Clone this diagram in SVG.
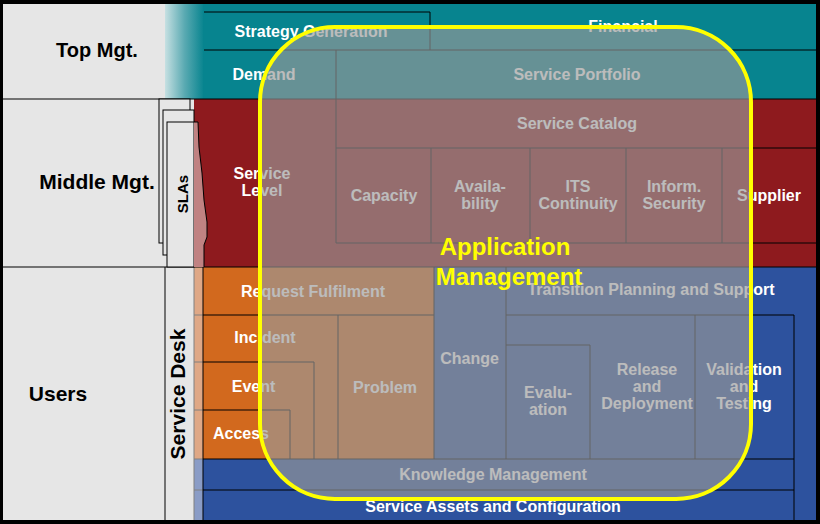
<svg xmlns="http://www.w3.org/2000/svg" width="820" height="524" viewBox="0 0 820 524">
<defs>
<linearGradient id="fade" x1="0" y1="0" x2="1" y2="0">
<stop offset="0" stop-color="#c6e0e2"/>
<stop offset="0.5" stop-color="#5aaab2"/>
<stop offset="1" stop-color="#07848f"/>
</linearGradient>
<style>
.t{font-family:"Liberation Sans",Arial,sans-serif;font-weight:bold;font-size:16px;fill:#fff;text-anchor:middle}
.h{font-family:"Liberation Sans",Arial,sans-serif;font-weight:bold;font-size:21px;fill:#000;text-anchor:middle}
.am{font-family:"Liberation Sans",Arial,sans-serif;font-weight:bold;font-size:24px;fill:#ffff00;text-anchor:middle}
.ln{fill:none;stroke:#000;stroke-width:1}
.gl{fill:none;stroke:#808080;stroke-width:1}
.pg{fill:#e6e6e6;stroke:#000;stroke-width:1}
</style>
</defs>
<rect width="820" height="524" fill="#000"/>
<rect x="3" y="4" width="813" height="516" fill="#e6e6e6"/>
<!-- colour bands -->
<rect x="165" y="4" width="39" height="95" fill="url(#fade)"/>
<rect x="203" y="4" width="613" height="95" fill="#07848f"/>
<rect x="194" y="99" width="622" height="168" fill="#8e1a1e"/>
<rect x="203" y="267" width="231" height="192" fill="#d2691e"/>
<rect x="434" y="267" width="382" height="192" fill="#2d529e"/>
<rect x="203" y="459" width="613" height="61" fill="#2d529e"/>
<rect x="194" y="267" width="9" height="192" fill="#dfa886"/>
<rect x="194" y="459" width="9" height="61" fill="#8a9cc6"/>
<path class="gl" d="M194,267V520M194,315H203M194,362H203M194,410H203M194,459H203M194,490H203"/>
<path class="ln" d="M3,99H816M3,267H816M165,267V520M203,267V520"/>

<g id="top-mgt"><text class="h" style="font-size:20px" x="97" y="57">Top Mgt.</text></g>
<g id="middle-mgt"><text class="h" x="97" y="189">Middle Mgt.</text></g>
<g id="users"><text class="h" x="58" y="401">Users</text></g>

<g id="slas">
<rect class="pg" x="159" y="99" width="31" height="144"/>
<rect class="pg" x="163" y="110" width="31" height="145"/>
<rect class="pg" x="167" y="122" width="27" height="145"/>
<path d="M194,122H198L199,147L202,173L204,200L207,222L207,237L204,245L204,267H194Z" fill="#c08282"/>
<path class="ln" d="M194,122H198L199,147L202,173L204,200L207,222L207,237L204,245L204,267"/>
<text class="h" style="font-size:15px" transform="translate(188,194) rotate(-90)">SLAs</text>
</g>
<g id="service-desk"><text class="h" transform="translate(184.5,394) rotate(-90)">Service Desk</text></g>

<g id="strategy-generation"><path class="ln" d="M204,12H430V50H204"/><text class="t" x="311" y="37">Strategy Generation</text></g>
<g id="financial"><path class="ln" d="M430,50H816"/><text class="t" x="623" y="32">Financial</text></g>
<g id="demand"><text class="t" x="264" y="80">Demand</text></g>
<g id="service-portfolio"><path class="ln" d="M336,50V99"/><text class="t" x="577" y="80">Service Portfolio</text></g>
<g id="service-level"><text class="t" x="262" y="178.5">Service</text><text class="t" x="262" y="196">Level</text></g>
<g id="service-catalog"><path class="ln" d="M336,99V243H816M336,148H816"/><text class="t" x="577" y="129">Service Catalog</text></g>
<g id="capacity"><text class="t" x="384" y="201">Capacity</text></g>
<g id="availability"><path class="ln" d="M431,148V243"/><text class="t" x="480" y="192">Availa-</text><text class="t" x="480" y="209">bility</text></g>
<g id="its-continuity"><path class="ln" d="M530,148V243"/><text class="t" x="578" y="192">ITS</text><text class="t" x="578" y="209">Continuity</text></g>
<g id="inform-security"><path class="ln" d="M626,148V243"/><text class="t" x="674" y="192">Inform.</text><text class="t" x="674" y="209">Security</text></g>
<g id="supplier"><path class="ln" d="M722,148V243"/><text class="t" x="769" y="201">Supplier</text></g>

<g id="request-fulfilment"><path class="ln" d="M203,315H434"/><text class="t" x="313" y="297">Request Fulfilment</text></g>
<g id="incident"><path class="ln" d="M338,315V459"/><text class="t" x="265" y="343">Incident</text></g>
<g id="event"><path class="ln" d="M203,362H314V459"/><text class="t" x="253.5" y="392">Event</text></g>
<g id="access"><path class="ln" d="M203,410H290V459"/><text class="t" x="241" y="439">Access</text></g>
<g id="problem"><text class="t" x="385" y="393">Problem</text></g>
<g id="change"><path class="ln" d="M434,267V459M506,267V459"/><text class="t" x="469.5" y="364">Change</text></g>
<g id="transition-planning"><path class="ln" d="M506,315H794V520"/><text class="t" x="651" y="295">Transition Planning and Support</text></g>
<g id="evaluation"><path class="ln" d="M506,345H590V459"/><text class="t" x="548" y="398">Evalu-</text><text class="t" x="548" y="415">ation</text></g>
<g id="release-deployment"><path class="ln" d="M695,315V459"/><text class="t" x="647" y="375">Release</text><text class="t" x="647" y="392">and</text><text class="t" x="647" y="409">Deployment</text></g>
<g id="validation-testing"><text class="t" x="744" y="375">Validation</text><text class="t" x="744" y="392">and</text><text class="t" x="744" y="409">Testing</text></g>
<g id="knowledge-management"><path class="ln" d="M203,459H794M203,490H794"/><text class="t" x="493" y="480">Knowledge Management</text></g>
<g id="service-assets"><text class="t" x="493" y="512">Service Assets and Configuration</text></g>

<g id="application-management">
<rect x="260" y="27" width="491" height="472" rx="75" ry="75" fill="#989898" fill-opacity="0.655" stroke="#ffff00" stroke-width="4"/>
<text class="am" x="505" y="255">Application</text>
<text class="am" x="509" y="285">Management</text>
</g>
</svg>
